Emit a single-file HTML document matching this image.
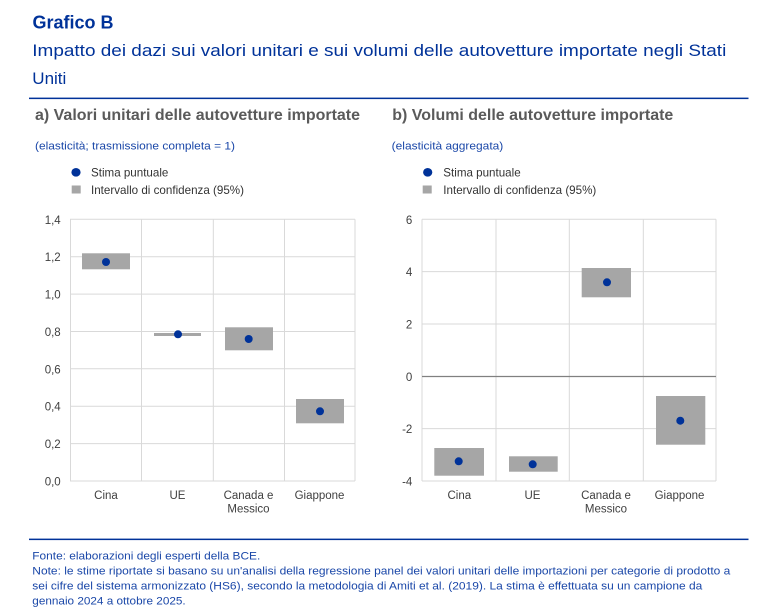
<!DOCTYPE html>
<html><head><meta charset="utf-8"><style>
html,body{margin:0;padding:0;background:#fff;}
svg{display:block;}
text{font-family:"Liberation Sans",Arial,sans-serif;}
</style></head><body>
<svg width="777" height="613" viewBox="0 0 777 613" xmlns="http://www.w3.org/2000/svg">
<rect width="777" height="613" fill="#fff"/>
<!-- Header -->
<text x="32.5" y="28.3" font-size="18" font-weight="bold" fill="#003299">Grafico B</text>
<text x="32.3" y="56" font-size="17" fill="#003299" textLength="694" lengthAdjust="spacingAndGlyphs">Impatto dei dazi sui valori unitari e sui volumi delle autovetture importate negli Stati</text>
<text x="32.3" y="84" font-size="17" fill="#003299">Uniti</text>
<rect x="29" y="97.6" width="719.5" height="1.5" fill="#003299"/>

<!-- Panel titles -->
<text x="35" y="120" font-size="16" font-weight="bold" fill="#5a5a5a" textLength="325" lengthAdjust="spacingAndGlyphs">a) Valori unitari delle autovetture importate</text>
<text x="392.3" y="120" font-size="16" font-weight="bold" fill="#5a5a5a" textLength="281" lengthAdjust="spacingAndGlyphs">b) Volumi delle autovetture importate</text>
<text x="35" y="149.5" font-size="11" fill="#1a47a8" textLength="200" lengthAdjust="spacingAndGlyphs">(elasticità; trasmissione completa = 1)</text>
<text x="391.7" y="149.5" font-size="11" fill="#1a47a8" textLength="111.6" lengthAdjust="spacingAndGlyphs">(elasticità aggregata)</text>

<!-- Legends -->
<ellipse cx="76" cy="172.3" rx="4.6" ry="4.3" fill="#003299"/>
<text x="91" y="176.3" font-size="11.6" fill="#333">Stima puntuale</text>
<rect x="71.7" y="185.5" width="9" height="8" fill="#a6a6a6"/>
<text x="91" y="193.8" font-size="11.6" fill="#333" textLength="153" lengthAdjust="spacingAndGlyphs">Intervallo di confidenza (95%)</text>

<ellipse cx="427.7" cy="172.3" rx="4.6" ry="4.3" fill="#003299"/>
<text x="443.3" y="176.3" font-size="11.6" fill="#333">Stima puntuale</text>
<rect x="422.7" y="185.5" width="9" height="8" fill="#a6a6a6"/>
<text x="443.3" y="193.8" font-size="11.6" fill="#333" textLength="153" lengthAdjust="spacingAndGlyphs">Intervallo di confidenza (95%)</text>

<!-- Left chart grid -->
<g stroke="#d9d9d9" stroke-width="1" fill="none">
<line x1="70" y1="219.3" x2="355" y2="219.3"/>
<line x1="70" y1="256.7" x2="355" y2="256.7"/>
<line x1="70" y1="294.1" x2="355" y2="294.1"/>
<line x1="70" y1="331.5" x2="355" y2="331.5"/>
<line x1="70" y1="368.8" x2="355" y2="368.8"/>
<line x1="70" y1="406.2" x2="355" y2="406.2"/>
<line x1="70" y1="443.6" x2="355" y2="443.6"/>
<line x1="70" y1="481" x2="355" y2="481"/>
<line x1="70.5" y1="219.3" x2="70.5" y2="481"/>
<line x1="141.5" y1="219.3" x2="141.5" y2="481"/>
<line x1="213.3" y1="219.3" x2="213.3" y2="481"/>
<line x1="284.5" y1="219.3" x2="284.5" y2="481"/>
<line x1="355" y1="219.3" x2="355" y2="481"/>
</g>
<g font-size="11.5" fill="#404040" text-anchor="end">
<text x="60.7" y="223.8">1,4</text>
<text x="60.7" y="261.2">1,2</text>
<text x="60.7" y="298.6">1,0</text>
<text x="60.7" y="336">0,8</text>
<text x="60.7" y="373.3">0,6</text>
<text x="60.7" y="410.7">0,4</text>
<text x="60.7" y="448.1">0,2</text>
<text x="60.7" y="485.5">0,0</text>
</g>
<g fill="#a6a6a6">
<rect x="82" y="253.3" width="48" height="16"/>
<rect x="154" y="333" width="47" height="3"/>
<rect x="225" y="327.3" width="48" height="23"/>
<rect x="296" y="399" width="48" height="24.3"/>
</g>
<g fill="#003299">
<circle cx="106" cy="262" r="4"/>
<circle cx="178" cy="334.3" r="4"/>
<circle cx="248.7" cy="339" r="4"/>
<circle cx="320" cy="411.3" r="4"/>
</g>
<g font-size="11.5" fill="#404040" text-anchor="middle">
<text x="106" y="499">Cina</text>
<text x="177.5" y="499">UE</text>
<text x="248.5" y="499">Canada e</text>
<text x="248.5" y="512.5">Messico</text>
<text x="319.5" y="499">Giappone</text>
</g>

<!-- Right chart grid -->
<g stroke="#d9d9d9" stroke-width="1" fill="none">
<line x1="422" y1="219.3" x2="716" y2="219.3"/>
<line x1="422" y1="271.6" x2="716" y2="271.6"/>
<line x1="422" y1="324" x2="716" y2="324"/>
<line x1="422" y1="428.6" x2="716" y2="428.6"/>
<line x1="422" y1="481" x2="716" y2="481"/>
<line x1="422" y1="219.3" x2="422" y2="481"/>
<line x1="496" y1="219.3" x2="496" y2="481"/>
<line x1="569.3" y1="219.3" x2="569.3" y2="481"/>
<line x1="643.3" y1="219.3" x2="643.3" y2="481"/>
<line x1="716" y1="219.3" x2="716" y2="481"/>
</g>
<line x1="422" y1="376.5" x2="716" y2="376.5" stroke="#808080" stroke-width="1.2"/>
<g font-size="11.5" fill="#404040" text-anchor="end">
<text x="412.3" y="223.8">6</text>
<text x="412.3" y="276.1">4</text>
<text x="412.3" y="328.5">2</text>
<text x="412.3" y="380.8">0</text>
<text x="412.3" y="433.1">-2</text>
<text x="412.3" y="485.5">-4</text>
</g>
<g fill="#a6a6a6">
<rect x="434.3" y="448" width="49.7" height="27.7"/>
<rect x="509" y="456.3" width="48.7" height="15.4"/>
<rect x="581.7" y="268" width="49.3" height="29.3"/>
<rect x="656" y="396" width="49.3" height="48.7"/>
</g>
<g fill="#003299">
<circle cx="458.7" cy="461.3" r="4"/>
<circle cx="532.7" cy="464.3" r="4"/>
<circle cx="607" cy="282.3" r="4"/>
<circle cx="680.3" cy="420.7" r="4"/>
</g>
<g font-size="11.5" fill="#404040" text-anchor="middle">
<text x="459.3" y="499">Cina</text>
<text x="532.5" y="499">UE</text>
<text x="606" y="499">Canada e</text>
<text x="606" y="512.5">Messico</text>
<text x="679.5" y="499">Giappone</text>
</g>

<!-- Footer -->
<rect x="29" y="538.6" width="719.5" height="1.5" fill="#003299"/>
<g font-size="11" fill="#1a47a8">
<text x="32.3" y="559.3" textLength="228" lengthAdjust="spacingAndGlyphs">Fonte: elaborazioni degli esperti della BCE.</text>
<text x="32.3" y="574.5" textLength="698" lengthAdjust="spacingAndGlyphs">Note: le stime riportate si basano su un'analisi della regressione panel dei valori unitari delle importazioni per categorie di prodotto a</text>
<text x="32.3" y="589.5" textLength="670" lengthAdjust="spacingAndGlyphs">sei cifre del sistema armonizzato (HS6), secondo la metodologia di Amiti et al. (2019). La stima è effettuata su un campione da</text>
<text x="32.3" y="604.5" textLength="153.4" lengthAdjust="spacingAndGlyphs">gennaio 2024 a ottobre 2025.</text>
</g>
</svg>
</body></html>
